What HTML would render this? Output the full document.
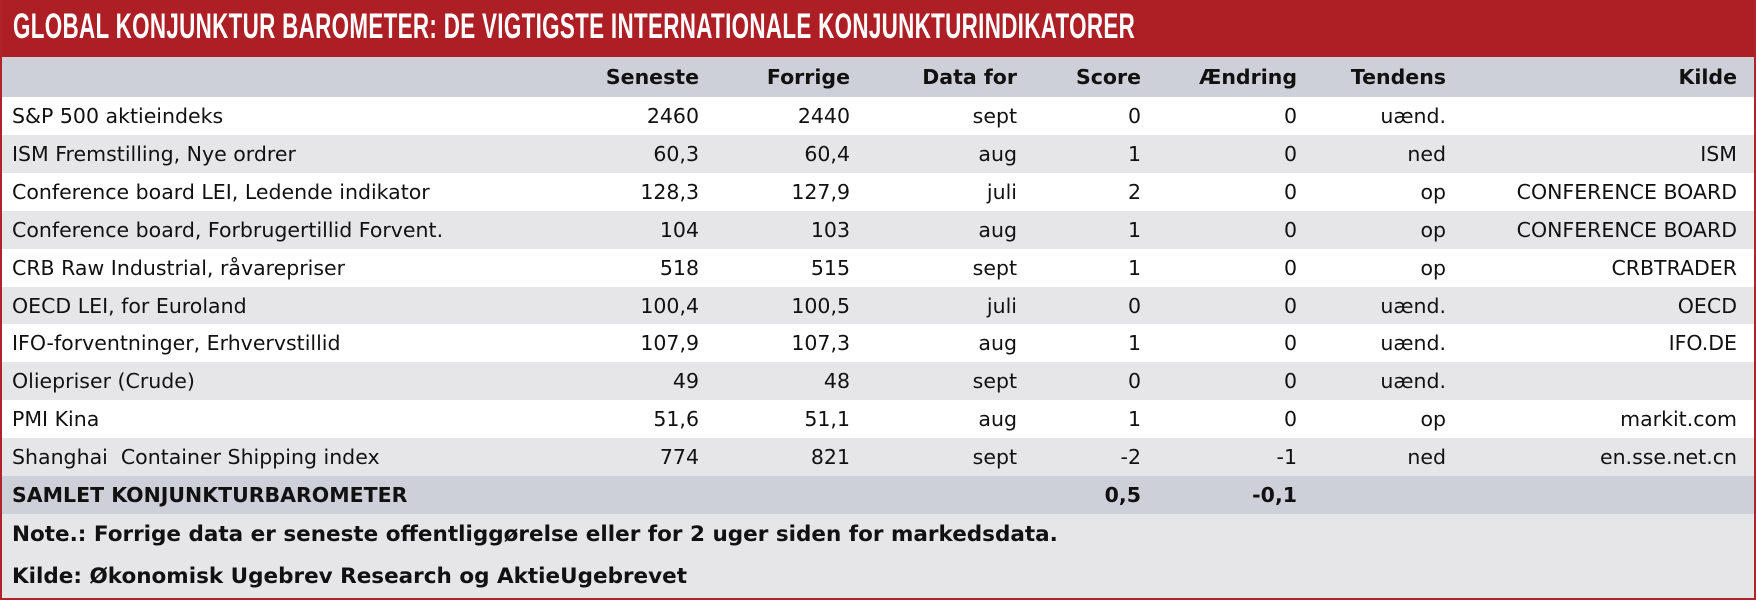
<!DOCTYPE html>
<html><head><meta charset="utf-8"><style>
*{margin:0;padding:0;box-sizing:border-box}
body{width:1756px;height:600px;background:#fff;position:relative;overflow:hidden;font-family:"DejaVu Sans","Liberation Sans",sans-serif;color:#111}
#frame{position:absolute;left:0;top:0;width:1756px;height:600px;border:2px solid #b0232a;border-top:none}
#title{position:absolute;left:0;top:0;width:1756px;height:57px;background:#ad1f24}
#title span{position:absolute;left:13px;top:7px;font-family:"Liberation Sans",sans-serif;font-weight:bold;font-size:35px;color:#fff;transform:scaleX(0.64);transform-origin:0 0;white-space:nowrap;letter-spacing:0.5px}
.row{position:absolute;left:2px;width:1752px;height:38px;font-size:20.5px;line-height:38px}
.row div{position:absolute;white-space:nowrap}
.l{left:10px}
.c1{right:1055px}.c2{right:904px}.c3{right:737px}.c4{right:613px}.c5{right:457px}.c6{right:308px}.c7{right:17px}
.hd{background:#cdd0d8;font-weight:bold}
.w{background:#fff}.g{background:#e6e6e8}
#notes{position:absolute;left:2px;top:514px;width:1752px;height:84px;background:#e6e6e8;font-weight:bold;font-size:21.5px}
#notes div{position:absolute;left:10px;white-space:nowrap}
</style></head><body>
<div id="title"><span>GLOBAL KONJUNKTUR BAROMETER: DE VIGTIGSTE INTERNATIONALE KONJUNKTURINDIKATORER</span></div>
<div class="row hd" style="top:57px;height:40px;line-height:40px"><div class="c1">Seneste</div><div class="c2">Forrige</div><div class="c3">Data for</div><div class="c4">Score</div><div class="c5">Ændring</div><div class="c6">Tendens</div><div class="c7">Kilde</div></div>
<div class="row w" style="top:97px"><div class="l">S&amp;P 500 aktieindeks</div><div class="c1">2460</div><div class="c2">2440</div><div class="c3">sept</div><div class="c4">0</div><div class="c5">0</div><div class="c6">uænd.</div><div class="c7"></div></div>
<div class="row g" style="top:135px"><div class="l">ISM Fremstilling, Nye ordrer</div><div class="c1">60,3</div><div class="c2">60,4</div><div class="c3">aug</div><div class="c4">1</div><div class="c5">0</div><div class="c6">ned</div><div class="c7">ISM</div></div>
<div class="row w" style="top:173px"><div class="l">Conference board LEI, Ledende indikator</div><div class="c1">128,3</div><div class="c2">127,9</div><div class="c3">juli</div><div class="c4">2</div><div class="c5">0</div><div class="c6">op</div><div class="c7">CONFERENCE BOARD</div></div>
<div class="row g" style="top:211px"><div class="l">Conference board, Forbrugertillid Forvent.</div><div class="c1">104</div><div class="c2">103</div><div class="c3">aug</div><div class="c4">1</div><div class="c5">0</div><div class="c6">op</div><div class="c7">CONFERENCE BOARD</div></div>
<div class="row w" style="top:249px"><div class="l">CRB Raw Industrial, råvarepriser</div><div class="c1">518</div><div class="c2">515</div><div class="c3">sept</div><div class="c4">1</div><div class="c5">0</div><div class="c6">op</div><div class="c7">CRBTRADER</div></div>
<div class="row g" style="top:287px"><div class="l">OECD LEI, for Euroland</div><div class="c1">100,4</div><div class="c2">100,5</div><div class="c3">juli</div><div class="c4">0</div><div class="c5">0</div><div class="c6">uænd.</div><div class="c7">OECD</div></div>
<div class="row w" style="top:324px"><div class="l">IFO-forventninger, Erhvervstillid</div><div class="c1">107,9</div><div class="c2">107,3</div><div class="c3">aug</div><div class="c4">1</div><div class="c5">0</div><div class="c6">uænd.</div><div class="c7">IFO.DE</div></div>
<div class="row g" style="top:362px"><div class="l">Oliepriser (Crude)</div><div class="c1">49</div><div class="c2">48</div><div class="c3">sept</div><div class="c4">0</div><div class="c5">0</div><div class="c6">uænd.</div><div class="c7"></div></div>
<div class="row w" style="top:400px"><div class="l">PMI Kina</div><div class="c1">51,6</div><div class="c2">51,1</div><div class="c3">aug</div><div class="c4">1</div><div class="c5">0</div><div class="c6">op</div><div class="c7">markit.com</div></div>
<div class="row g" style="top:438px"><div class="l">Shanghai&nbsp; Container Shipping index</div><div class="c1">774</div><div class="c2">821</div><div class="c3">sept</div><div class="c4">-2</div><div class="c5">-1</div><div class="c6">ned</div><div class="c7">en.sse.net.cn</div></div>
<div class="row hd" style="top:476px"><div class="l">SAMLET KONJUNKTURBAROMETER</div><div class="c4">0,5</div><div class="c5">-0,1</div></div>
<div id="notes"><div style="top:8px">Note.: Forrige data er seneste offentliggørelse eller for 2 uger siden for markedsdata.</div><div style="top:50px">Kilde: Økonomisk Ugebrev Research og AktieUgebrevet</div></div>
<div id="frame"></div>
</body></html>
